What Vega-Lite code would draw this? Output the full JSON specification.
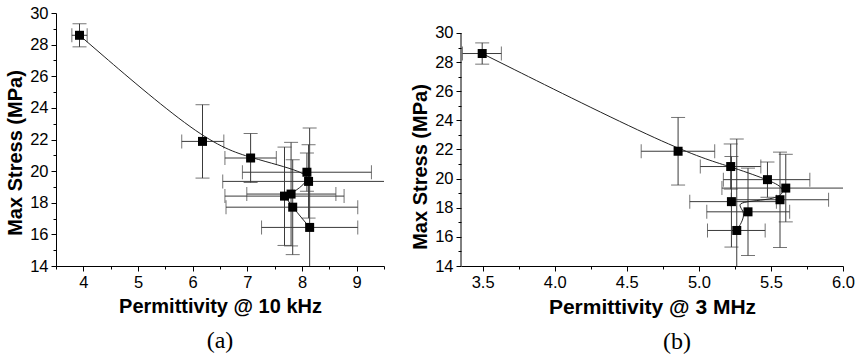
{
  "$schema": "https://vega.github.io/schema/vega-lite/v6.json",
  "padding": 5,
  "background": "white",
  "spacing": 25,
  "config": {
    "view": {"stroke": null},
    "font": "Liberation Sans",
    "axis": {"grid": false, "domainColor": "#000", "tickColor": "#000", "labelColor": "#000", "titleColor": "#000", "labelFont": "Liberation Sans", "labelFontSize": 16.5, "titleFont": "Liberation Sans", "titleFontSize": 20, "titleFontWeight": "bold", "labelFlush": false, "domainWidth": 1, "tickWidth": 1, "tickSize": 5},
    "axisX": {"labelPadding": 3, "titlePadding": 6},
    "axisY": {"labelPadding": 3, "titlePadding": 4},
    "title": {"font": "Liberation Serif", "fontSize": 24, "fontWeight": "normal", "orient": "bottom", "anchor": "middle", "color": "#000"}
  },
  "datasets": {
    "pts": [
      {"idx": 1, "stress": 28.59, "s_lo": 27.86, "s_hi": 29.32, "a": 3.93, "a_lo": 3.79, "a_hi": 4.07, "b": 3.497, "b_lo": 3.36, "b_hi": 3.63},
      {"idx": 2, "stress": 21.88, "s_lo": 19.56, "s_hi": 24.20, "a": 6.18, "a_lo": 5.80, "a_hi": 6.57, "b": 4.856, "b_lo": 4.60, "b_hi": 5.11},
      {"idx": 3, "stress": 20.83, "s_lo": 19.28, "s_hi": 22.38, "a": 7.06, "a_lo": 6.59, "a_hi": 7.53, "b": 5.221, "b_lo": 5.01, "b_hi": 5.43},
      {"idx": 4, "stress": 19.93, "s_lo": 18.72, "s_hi": 21.14, "a": 8.09, "a_lo": 6.91, "a_hi": 9.27, "b": 5.476, "b_lo": 5.17, "b_hi": 5.77},
      {"idx": 5, "stress": 19.35, "s_lo": 17.03, "s_hi": 21.67, "a": 8.12, "a_lo": 6.55, "a_hi": 9.69, "b": 5.603, "b_lo": 5.16, "b_hi": 6.05},
      {"idx": 6, "stress": 18.55, "s_lo": 15.27, "s_hi": 21.82, "a": 7.80, "a_lo": 6.99, "a_hi": 8.62, "b": 5.563, "b_lo": 5.225, "b_hi": 5.90},
      {"idx": 7, "stress": 18.42, "s_lo": 15.30, "s_hi": 21.52, "a": 7.68, "a_lo": 6.59, "a_hi": 8.77, "b": 5.226, "b_lo": 4.937, "b_hi": 5.538},
      {"idx": 8, "stress": 17.72, "s_lo": 14.72, "s_hi": 20.72, "a": 7.83, "a_lo": 6.61, "a_hi": 9.02, "b": 5.341, "b_lo": 5.055, "b_hi": 5.63},
      {"idx": 9, "stress": 16.44, "s_lo": 10.16, "s_hi": 22.72, "a": 8.14, "a_lo": 7.26, "a_hi": 9.02, "b": 5.263, "b_lo": 5.06, "b_hi": 5.46}
    ]
  },
  "hconcat": [
    {
      "width": 328,
      "height": 253,
      "title": {"text": "(a)", "offset": 12},
      "resolve": {"axis": {"x": "independent", "y": "independent"}},
      "layer": [
        {
          "data": {"name": "pts"},
          "layer": [
            {
              "mark": {"type": "rule", "color": "#3a3a3a", "strokeWidth": 1, "clip": true},
              "encoding": {
                "x": {"field": "a_lo", "type": "quantitative", "title": "Permittivity @ 10 kHz",
                      "scale": {"domain": [3.5, 9.5], "nice": false, "zero": false},
                      "axis": {"values": [4, 5, 6, 7, 8, 9], "format": "d"}},
                "x2": {"field": "a_hi"},
                "y": {"field": "stress", "type": "quantitative", "title": "Max Stress (MPa)",
                      "scale": {"domain": [14, 30], "nice": false, "zero": false},
                      "axis": {"values": [14, 18, 22, 26, 30], "format": "d", "titleY": 139.5}}
              }
            },
            {
              "mark": {"type": "rule", "color": "#3a3a3a", "strokeWidth": 1, "clip": true},
              "encoding": {
                "x": {"field": "a", "type": "quantitative", "title": "Permittivity @ 10 kHz"},
                "y": {"field": "s_lo", "type": "quantitative", "title": "Max Stress (MPa)"},
                "y2": {"field": "s_hi"}
              }
            },
            {
              "mark": {"type": "tick", "orient": "vertical", "size": 14, "thickness": 1, "color": "#3a3a3a", "clip": true},
              "encoding": {
                "x": {"field": "a_lo", "type": "quantitative", "title": "Permittivity @ 10 kHz"},
                "y": {"field": "stress", "type": "quantitative", "title": "Max Stress (MPa)"}
              }
            },
            {
              "mark": {"type": "tick", "orient": "vertical", "size": 14, "thickness": 1, "color": "#3a3a3a", "clip": true},
              "encoding": {
                "x": {"field": "a_hi", "type": "quantitative", "title": "Permittivity @ 10 kHz"},
                "y": {"field": "stress", "type": "quantitative", "title": "Max Stress (MPa)"}
              }
            },
            {
              "mark": {"type": "tick", "orient": "horizontal", "size": 14, "thickness": 1, "color": "#3a3a3a", "clip": true},
              "encoding": {
                "x": {"field": "a", "type": "quantitative", "title": "Permittivity @ 10 kHz"},
                "y": {"field": "s_lo", "type": "quantitative", "title": "Max Stress (MPa)"}
              }
            },
            {
              "mark": {"type": "tick", "orient": "horizontal", "size": 14, "thickness": 1, "color": "#3a3a3a", "clip": true},
              "encoding": {
                "x": {"field": "a", "type": "quantitative", "title": "Permittivity @ 10 kHz"},
                "y": {"field": "s_hi", "type": "quantitative", "title": "Max Stress (MPa)"}
              }
            },
            {
              "mark": {"type": "line", "interpolate": "basis", "color": "#222", "strokeWidth": 1, "clip": true},
              "encoding": {
                "x": {"field": "a", "type": "quantitative", "title": "Permittivity @ 10 kHz"},
                "y": {"field": "stress", "type": "quantitative", "title": "Max Stress (MPa)"},
                "order": {"field": "idx", "type": "quantitative"}
              }
            },
            {
              "mark": {"type": "point", "shape": "square", "filled": true, "size": 81, "color": "#000", "opacity": 1},
              "encoding": {
                "x": {"field": "a", "type": "quantitative", "title": "Permittivity @ 10 kHz"},
                "y": {"field": "stress", "type": "quantitative", "title": "Max Stress (MPa)"}
              }
            }
          ]
        },
        {
          "data": {"values": []},
          "mark": {"type": "point", "opacity": 0},
          "encoding": {
            "x": {"field": "mx", "type": "quantitative", "title": null,
                  "axis": {"orient": "bottom", "values": [3.5, 4.5, 5.5, 6.5, 7.5, 8.5, 9.5], "labels": false, "domain": false, "tickSize": 3}},
            "y": {"field": "my", "type": "quantitative", "title": null,
                  "axis": {"orient": "left", "values": [16, 20, 24, 28], "format": "d", "domain": false}}
          }
        },
        {
          "data": {"values": []},
          "mark": {"type": "point", "opacity": 0},
          "encoding": {
            "y": {"field": "my2", "type": "quantitative", "title": null,
                  "axis": {"orient": "left", "values": [15, 17, 19, 21, 23, 25, 27, 29], "labels": false, "domain": false, "tickSize": 3}}
          }
        }
      ]
    },
    {
      "width": 382,
      "height": 253,
      "title": {"text": "(b)", "offset": 12, "dx": 25},
      "resolve": {"axis": {"x": "independent", "y": "independent"}},
      "layer": [
        {
          "data": {"name": "pts"},
          "layer": [
            {
              "mark": {"type": "rule", "color": "#3a3a3a", "strokeWidth": 1, "clip": true},
              "encoding": {
                "x": {"field": "b_lo", "type": "quantitative", "title": "Permittivity @ 3 MHz",
                      "scale": {"domain": [3.35, 6.0], "nice": false, "zero": false},
                      "axis": {"values": [3.5, 4, 4.5, 5, 5.5, 6], "format": ".1f", "titleFontSize": 21}},
                "x2": {"field": "b_hi"},
                "y": {"field": "stress", "type": "quantitative", "title": "Max Stress (MPa)",
                      "scale": {"domain": [14, 31.373], "nice": false, "zero": false},
                      "axis": {"values": [14, 18, 22, 26, 30], "format": "d", "domain": false, "titleY": 153.5}}
              }
            },
            {
              "data": {"values": [{"lo": 14, "hi": 30, "xmin": 3.35}]},
              "mark": {"type": "rule", "color": "#000", "strokeWidth": 1},
              "encoding": {
                "x": {"field": "xmin", "type": "quantitative", "title": "Permittivity @ 3 MHz"},
                "y": {"field": "lo", "type": "quantitative", "title": "Max Stress (MPa)"},
                "y2": {"field": "hi"}
              }
            },
            {
              "mark": {"type": "rule", "color": "#3a3a3a", "strokeWidth": 1, "clip": true},
              "encoding": {
                "x": {"field": "b", "type": "quantitative", "title": "Permittivity @ 3 MHz"},
                "y": {"field": "s_lo", "type": "quantitative", "title": "Max Stress (MPa)"},
                "y2": {"field": "s_hi"}
              }
            },
            {
              "mark": {"type": "tick", "orient": "vertical", "size": 14, "thickness": 1, "color": "#3a3a3a", "clip": true},
              "encoding": {
                "x": {"field": "b_lo", "type": "quantitative", "title": "Permittivity @ 3 MHz"},
                "y": {"field": "stress", "type": "quantitative", "title": "Max Stress (MPa)"}
              }
            },
            {
              "mark": {"type": "tick", "orient": "vertical", "size": 14, "thickness": 1, "color": "#3a3a3a", "clip": true},
              "encoding": {
                "x": {"field": "b_hi", "type": "quantitative", "title": "Permittivity @ 3 MHz"},
                "y": {"field": "stress", "type": "quantitative", "title": "Max Stress (MPa)"}
              }
            },
            {
              "mark": {"type": "tick", "orient": "horizontal", "size": 14, "thickness": 1, "color": "#3a3a3a", "clip": true},
              "encoding": {
                "x": {"field": "b", "type": "quantitative", "title": "Permittivity @ 3 MHz"},
                "y": {"field": "s_lo", "type": "quantitative", "title": "Max Stress (MPa)"}
              }
            },
            {
              "mark": {"type": "tick", "orient": "horizontal", "size": 14, "thickness": 1, "color": "#3a3a3a", "clip": true},
              "encoding": {
                "x": {"field": "b", "type": "quantitative", "title": "Permittivity @ 3 MHz"},
                "y": {"field": "s_hi", "type": "quantitative", "title": "Max Stress (MPa)"}
              }
            },
            {
              "mark": {"type": "line", "interpolate": "basis", "color": "#222", "strokeWidth": 1, "clip": true},
              "encoding": {
                "x": {"field": "b", "type": "quantitative", "title": "Permittivity @ 3 MHz"},
                "y": {"field": "stress", "type": "quantitative", "title": "Max Stress (MPa)"},
                "order": {"field": "idx", "type": "quantitative"}
              }
            },
            {
              "mark": {"type": "point", "shape": "square", "filled": true, "size": 81, "color": "#000", "opacity": 1},
              "encoding": {
                "x": {"field": "b", "type": "quantitative", "title": "Permittivity @ 3 MHz"},
                "y": {"field": "stress", "type": "quantitative", "title": "Max Stress (MPa)"}
              }
            }
          ]
        },
        {
          "data": {"values": []},
          "mark": {"type": "point", "opacity": 0},
          "encoding": {
            "x": {"field": "mx", "type": "quantitative", "title": null,
                  "axis": {"orient": "bottom", "values": [3.75, 4.25, 4.75, 5.25, 5.75], "labels": false, "domain": false, "tickSize": 3}},
            "y": {"field": "my", "type": "quantitative", "title": null,
                  "axis": {"orient": "left", "values": [16, 20, 24, 28], "format": "d", "domain": false}}
          }
        },
        {
          "data": {"values": []},
          "mark": {"type": "point", "opacity": 0},
          "encoding": {
            "y": {"field": "my2", "type": "quantitative", "title": null,
                  "axis": {"orient": "left", "values": [15, 17, 19, 21, 23, 25, 27, 29], "labels": false, "domain": false, "tickSize": 3}}
          }
        }
      ]
    }
  ]
}
